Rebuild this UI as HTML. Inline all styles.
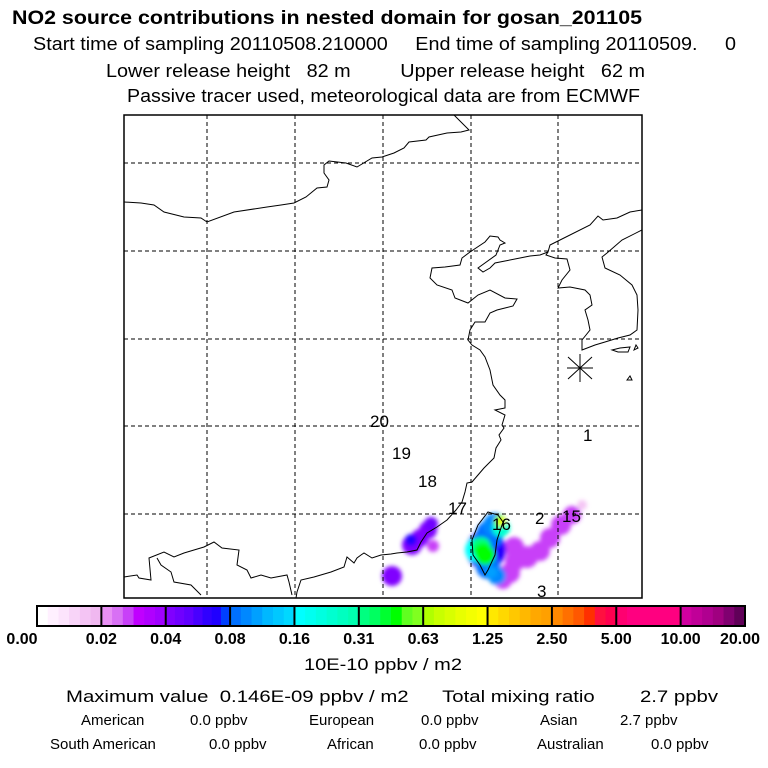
<!DOCTYPE html>
<html><head><meta charset="utf-8"><style>
html,body{margin:0;padding:0;background:#fff;}
svg{display:block;font-family:"Liberation Sans",sans-serif;}
</style></head><body>
<svg id="chart" width="768" height="768" viewBox="0 0 768 768" xmlns="http://www.w3.org/2000/svg">
<defs>
<filter id="blur" x="-50%" y="-50%" width="200%" height="200%"><feGaussianBlur stdDeviation="2"/></filter>
<clipPath id="mapclip"><rect x="124" y="115" width="518" height="483"/></clipPath>
</defs>
<rect width="768" height="768" fill="#fff"/>
<g fill="#000">
<text x="12" y="24" font-size="19" font-weight="bold" textLength="630" lengthAdjust="spacingAndGlyphs">NO2 source contributions in nested domain for gosan_201105</text>
<text x="33" y="50" font-size="18" textLength="703" lengthAdjust="spacingAndGlyphs" xml:space="preserve">Start time of sampling 20110508.210000     End time of sampling 20110509.     0</text>
<text x="106" y="77" font-size="18" textLength="539" lengthAdjust="spacingAndGlyphs" xml:space="preserve">Lower release height   82 m         Upper release height   62 m</text>
<text x="127" y="102" font-size="18" textLength="513" lengthAdjust="spacingAndGlyphs">Passive tracer used, meteorological data are from ECMWF</text>
</g>
<g id="map">
<g id="plume" clip-path="url(#mapclip)" filter="url(#blur)"></g>
<g id="grid" stroke="#000" stroke-width="1" stroke-dasharray="4,3"></g>
<g id="coast" fill="none" stroke="#000" stroke-width="1" clip-path="url(#mapclip)"></g>
<g stroke="#000" stroke-width="1">
<line x1="568" y1="357" x2="592" y2="379"/><line x1="568" y1="379" x2="592" y2="357"/><line x1="580" y1="354" x2="580" y2="382"/><line x1="567" y1="368" x2="593" y2="368"/>
</g>
<g id="labels" font-size="17" fill="#000"></g>
<rect x="124" y="115" width="518" height="483" fill="none" stroke="#000" stroke-width="1.5"/>
</g>
<g id="colorbar"></g>
<g fill="#000">
<text x="304" y="670" font-size="17" textLength="158" lengthAdjust="spacingAndGlyphs">10E-10 ppbv / m2</text>
<text x="66" y="702" font-size="17" textLength="652" lengthAdjust="spacingAndGlyphs" xml:space="preserve">Maximum value  0.146E-09 ppbv / m2      Total mixing ratio        2.7 ppbv</text>
<g font-size="15">
<text x="81" y="725">American</text>
<text x="190" y="725">0.0 ppbv</text>
<text x="309" y="725">European</text>
<text x="421" y="725">0.0 ppbv</text>
<text x="540" y="725">Asian</text>
<text x="620" y="725">2.7 ppbv</text>
<text x="50" y="749">South American</text>
<text x="209" y="749">0.0 ppbv</text>
<text x="327" y="749">African</text>
<text x="419" y="749">0.0 ppbv</text>
<text x="537" y="749">Australian</text>
<text x="651" y="749">0.0 ppbv</text>
</g>
</g>
</svg>
<script>
const levelLabels = ["0.00","0.02","0.04","0.08","0.16","0.31","0.63","1.25","2.50","5.00","10.00","20.00"];
const levelValues = [0,0.02,0.04,0.08,0.16,0.31,0.63,1.25,2.5,5,10,20];
const segmentColors = [
 ["#ffffff","#fff0ff","#fce4fc","#f8d4f8","#f4c4f4","#f0b8f0"],
 ["#e890f4","#d870f4","#c840f8","#c000ff","#b000ff","#a000ff"],
 ["#8000ff","#7000ff","#6000ff","#4800ff","#3000ff","#2000ff","#0040ff"],
 ["#0070ff","#0088ff","#00a0ff","#00b8ff","#00c8ff","#00d8ff"],
 ["#00ffff","#00fff0","#00ffe0","#00ffd0","#00ffc0","#00ffb0"],
 ["#00ff80","#00ff60","#00ff30","#00ff00","#60ff20","#80ff20"],
 ["#b0ff00","#c8ff00","#d8ff00","#e8ff00","#f4ff00","#ffff00"],
 ["#ffe800","#ffd800","#ffc800","#ffb800","#ffa800","#ffa000"],
 ["#ff8800","#ff7000","#ff5800","#ff3000","#ff1040","#ff0050"],
 ["#ff0070","#ff0080","#ff0080","#ff0080","#ff0080","#ff0080"],
 ["#d000a0","#c00098","#b00090","#a00080","#800070","#600058"]
];
// plume cells: map x, map y, radius, concentration (10E-10 ppbv/m2)
const plumeX = [582,572,561,550,540,527,515,514,510,503,497,392,412,420,428,431,433,411,
                486,490,495,488,477,481,485,501,500,497,491,483,502];
const plumeY = [505,515,525,538,551,557,561,547,573,580,575,576,545,538,530,524,546,540,
                550,534,525,567,550,547,555,528,521,576,572,552,522];
const plumeR = [5,9,10,10,10,11,10,10,10,9,9,10,10,9,9,7,6,6,
                20,14,12,12,12,10,10,9,6,9,6,9,4];
const plumeV = [0.015,0.03,0.03,0.03,0.03,0.03,0.03,0.03,0.03,0.03,0.04,0.045,0.045,0.045,0.045,0.05,0.03,0.07,
                0.07,0.08,0.1,0.09,0.18,0.35,0.5,0.25,0.6,0.1,0.12,0.5,1.1];
const gridX = [207,295,383,471,558];
const gridY = [163,251,339,426,514];
const receptorNums = ["20","19","18","17","16","2","15","1","3"];
const receptorX = [370,392,418,448,492,535,562,583,537];
const receptorY = [427,459,487,514,530,524,522,441,597];

const NS = "http://www.w3.org/2000/svg";
const barX0 = 37, barX1 = 745, barY = 606, barH = 20;
const segW = (barX1 - barX0) / segmentColors.length;
function colorFor(v){
  let s = 0;
  while (s < levelValues.length - 2 && v >= levelValues[s+1]) s++;
  const frac = Math.min(0.999, Math.max(0,(v - levelValues[s])/(levelValues[s+1]-levelValues[s])));
  const cols = segmentColors[s];
  return cols[Math.floor(frac*cols.length)];
}
const cb = document.getElementById('colorbar');
segmentColors.forEach((cols, i) => {
  const sw = segW / cols.length;
  cols.forEach((c, j) => {
    const r = document.createElementNS(NS,'rect');
    r.setAttribute('x', barX0 + i*segW + j*sw); r.setAttribute('y', barY);
    r.setAttribute('width', sw + 0.5); r.setAttribute('height', barH);
    r.setAttribute('fill', c);
    
    
    cb.appendChild(r);
  });
  const d = document.createElementNS(NS,'line');
  d.setAttribute('x1', barX0 + i*segW); d.setAttribute('x2', barX0 + i*segW);
  d.setAttribute('y1', barY); d.setAttribute('y2', barY+barH);
  d.setAttribute('stroke','#000'); d.setAttribute('stroke-width','2');
  
  
  cb.appendChild(d);
});
const frame = document.createElementNS(NS,'rect');
frame.setAttribute('x',barX0); frame.setAttribute('y',barY); frame.setAttribute('width',barX1-barX0); frame.setAttribute('height',barH);
frame.setAttribute('fill','none'); frame.setAttribute('stroke','#000'); frame.setAttribute('stroke-width','2');


cb.appendChild(frame);
levelLabels.forEach((l, i) => {
  const t = document.createElementNS(NS,'text');
  let x = barX0 + i*segW;
  t.setAttribute('x', x); t.setAttribute('y', 644);
  t.setAttribute('font-size','16'); t.setAttribute('font-weight','bold');
  t.setAttribute('text-anchor', i===levelLabels.length-1 ? 'end' : 'middle');
  if (i===levelLabels.length-1) t.setAttribute('x', 760);
  if (i===0) t.setAttribute('x', 22);
  t.textContent = l;
  
  
  cb.appendChild(t);
});
const pl = document.getElementById('plume');
plumeX.forEach((x, i) => {
  const c = document.createElementNS(NS,'circle');
  c.setAttribute('cx', x); c.setAttribute('cy', plumeY[i]); c.setAttribute('r', plumeR[i]);
  c.setAttribute('fill', colorFor(plumeV[i]));
  
  
  pl.appendChild(c);
});
const g = document.getElementById('grid');
gridX.forEach(x => {
  const l = document.createElementNS(NS,'line');
  l.setAttribute('x1',x); l.setAttribute('x2',x); l.setAttribute('y1',115); l.setAttribute('y2',598);
  
  
  g.appendChild(l);
});
gridY.forEach(y => {
  const l = document.createElementNS(NS,'line');
  l.setAttribute('y1',y); l.setAttribute('y2',y); l.setAttribute('x1',124); l.setAttribute('x2',642);
  
  
  g.appendChild(l);
});
const coastPaths = [
 "M454,115 L469,130 461,132 447,133 429,137 426,140 409,142 404,148 394,153 382,157 372,158 357,167 346,163 329,161 324,165 324,173 329,180 327,187 317,188 306,197 294,203 281,205 267,207 234,212 207,222 201,218 184,217 164,212 154,205 141,203 124,202",
 "M642,210 L630,212 617,218 603,220 598,216 590,225 560,240 550,245 548,252 546,255 555,258 567,259 570,270 562,280 558,288 570,287 585,290 590,295 592,305 585,310 588,320 590,330 582,340 582,350 595,345 605,342 618,338 630,335 637,330 638,310 637,295 632,285 620,275 605,268 602,257 607,253 622,240 642,230",
 "M548,252 L540,255 530,256 520,258 505,261 495,263 490,268 483,272 478,268 496,255 500,245 505,243 500,240 498,237 490,236 485,242 470,252 462,258 460,265 445,267 432,268 430,278 437,285 452,290 455,298 468,303 478,295 490,290 505,298 517,299 513,306 505,308 497,310 490,313 485,322 475,322 470,330 468,340 472,345 480,350 485,357 490,370 493,385 500,395 505,400 505,408 495,410 505,415 502,425 504,428 499,435 501,440 496,448 494,458 484,468 472,482 467,483 465,492 462,502 456,510 447,520 437,527 427,533 421,542 417,550 407,552 397,553 391,554 381,555 372,558 364,553 361,555 357,558 354,563 347,557 344,567 331,572 314,577 301,580 297,592 296,598",
 "M124,577 L137,575 139,578 151,580 149,558 164,552 174,557 184,553 194,550 204,547 214,542 222,548 239,550 237,565 247,570 251,578 261,575 271,578 287,575 289,582 292,595",
 "M157,558 L161,565 171,572 174,582 191,585 201,595",
 "M488,512 L498,515 503,522 497,540 495,555 488,570 485,575 480,565 473,555 472,540 478,525 Z",
 "M612,350 L620,348 630,347 628,352 618,352 Z",
 "M634,350 L636,345 638,348 Z",
 "M627,380 L630,376 632,380 Z"
];
const co = document.getElementById('coast');
coastPaths.forEach(d => {
  const p = document.createElementNS(NS,'path');
  p.setAttribute('d', d);
  
  
  co.appendChild(p);
});
const lb = document.getElementById('labels');
receptorNums.forEach((n, i) => {
  const t = document.createElementNS(NS,'text');
  t.setAttribute('x', receptorX[i]); t.setAttribute('y', receptorY[i]);
  t.textContent = n;
  
  
  lb.appendChild(t);
});
</script>
</body></html>
